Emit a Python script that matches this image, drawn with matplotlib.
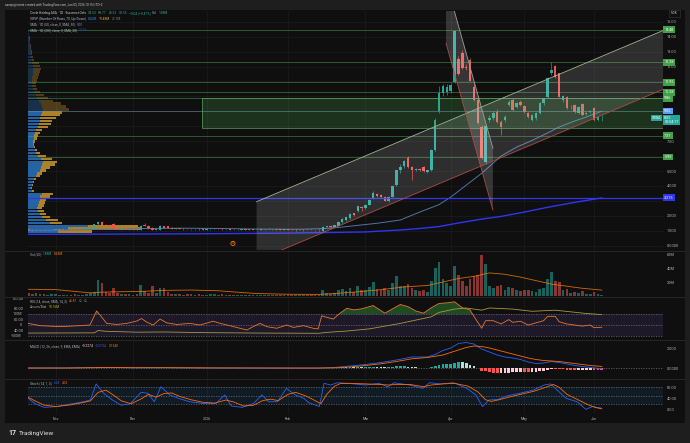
import matplotlib
matplotlib.use("Agg")
import matplotlib.pyplot as plt
from matplotlib.patches import Rectangle, Polygon
from matplotlib.lines import Line2D
import numpy as np
import pandas as pd

plt.rcParams["font.family"] = ["Roboto", "DejaVu Sans"]

W, H = 690, 443

# ---------------- trading calendar (Euronext Oslo) ----------------
holidays = ["2025-12-24", "2025-12-25", "2025-12-26", "2025-12-31", "2026-01-01",
            "2026-04-02", "2026-04-03", "2026-04-06", "2026-05-01", "2026-05-14", "2026-05-25"]
dates = pd.bdate_range("2025-10-23", "2026-06-03")
dates = dates[~dates.isin(pd.to_datetime(holidays))]
pos = np.arange(len(dates))
month_labels = ["Nov", "Dec", "2026", "Feb", "Mar", "Apr", "May", "Jun"]

# ---------------- daily candles ----------------
opens = [1.10, 1.05, 1.08, 1.04, 1.06, 1.03, 1.05, 1.08, 1.10, 1.07,
         1.09, 1.12, 1.10, 1.08, 1.11, 1.15, 1.18, 1.27, 1.44, 1.56,
         1.40, 1.38, 1.45, 1.18, 1.14, 1.17, 1.12, 1.15, 1.10, 1.08,
         1.40, 1.32, 1.18, 1.08, 1.06, 1.30, 1.30, 1.18, 1.13, 1.16,
         1.12, 1.15, 1.11, 1.09, 1.12, 1.10, 1.07, 1.10, 1.13, 1.15,
         1.12, 1.09, 1.11, 1.08, 1.06, 1.08, 1.10, 1.07, 1.09, 1.06,
         1.08, 1.11, 1.13, 1.10, 1.12, 1.09, 1.07, 1.09, 1.06, 1.04,
         1.07, 1.05, 1.08, 1.06, 1.03, 1.05, 1.00, 1.26, 1.32, 1.27,
         1.34, 1.56, 1.70, 1.84, 2.16, 2.30, 2.56, 2.52, 2.75, 3.18,
         3.46, 3.38, 3.24, 2.96, 3.28, 4.08, 5.08, 5.34, 5.85, 5.30,
         5.08, 5.14, 5.28, 4.95, 5.06, 6.42, 9.05, 10.25, 10.30, 10.35,
         10.98, 12.48, 12.88, 12.00, 12.44, 10.65, 9.76, 7.97, 5.60, 8.45,
         8.53, 8.97, 8.30, 8.42, 9.42, 9.76, 9.27, 9.65, 9.36, 8.87,
         8.42, 8.53, 8.87, 9.54, 9.98, 11.60, 12.03, 11.55, 9.76, 9.94,
         9.28, 9.42, 8.87, 9.49, 8.85, 8.98, 9.20, 8.42, 8.53]
highs = [1.14, 1.10, 1.12, 1.08, 1.09, 1.07, 1.10, 1.12, 1.14, 1.11,
         1.15, 1.16, 1.14, 1.12, 1.18, 1.22, 1.30, 1.48, 1.62, 1.62,
         1.45, 1.42, 1.50, 1.22, 1.20, 1.21, 1.18, 1.19, 1.14, 1.38,
         1.50, 1.36, 1.22, 1.14, 1.38, 1.34, 1.35, 1.22, 1.18, 1.20,
         1.17, 1.19, 1.15, 1.14, 1.16, 1.13, 1.12, 1.15, 1.18, 1.20,
         1.16, 1.13, 1.14, 1.12, 1.10, 1.12, 1.14, 1.11, 1.13, 1.10,
         1.12, 1.15, 1.17, 1.14, 1.16, 1.13, 1.11, 1.13, 1.10, 1.09,
         1.11, 1.09, 1.12, 1.10, 1.08, 1.09, 1.30, 1.34, 1.36, 1.40,
         1.62, 1.85, 1.92, 2.18, 2.22, 2.68, 2.64, 2.76, 3.10, 3.66,
         3.56, 3.44, 3.30, 3.32, 4.05, 5.10, 5.50, 5.75, 6.00, 5.35,
         5.20, 5.22, 5.34, 5.10, 6.45, 8.55, 10.70, 10.85, 10.80, 10.90,
         14.48, 12.70, 13.10, 12.20, 12.60, 10.90, 10.00, 8.10, 8.10, 8.75,
         9.00, 9.15, 8.40, 8.75, 9.75, 9.90, 9.65, 9.75, 9.45, 8.95,
         8.80, 8.95, 9.60, 9.92, 11.30, 12.30, 12.10, 11.60, 10.10, 10.00,
         9.40, 9.50, 9.35, 9.55, 8.98, 9.10, 9.30, 8.62, 8.77]
lows = [1.02, 1.00, 1.03, 1.00, 1.02, 0.99, 1.02, 1.04, 1.06, 1.03,
        1.06, 1.08, 1.05, 1.04, 1.08, 1.12, 1.15, 1.25, 1.40, 1.30,
        1.33, 1.30, 1.15, 1.10, 1.08, 1.10, 1.07, 1.08, 1.05, 1.05,
        1.32, 1.15, 1.06, 1.04, 1.02, 1.18, 1.16, 1.10, 1.09, 1.10,
        1.08, 1.10, 1.06, 1.05, 1.08, 1.05, 1.04, 1.07, 1.10, 1.11,
        1.08, 1.05, 1.06, 1.04, 1.02, 1.05, 1.06, 1.03, 1.05, 1.02,
        1.05, 1.07, 1.09, 1.06, 1.08, 1.05, 1.03, 1.05, 1.02, 1.00,
        1.03, 1.01, 1.04, 1.02, 0.99, 1.01, 0.94, 1.22, 1.20, 1.24,
        1.30, 1.52, 1.66, 1.80, 2.02, 2.25, 2.30, 2.48, 2.70, 3.10,
        3.28, 3.20, 2.98, 2.90, 3.24, 4.00, 4.90, 5.20, 5.20, 4.40,
        4.98, 5.00, 4.92, 4.88, 5.02, 6.35, 8.90, 10.05, 10.10, 10.20,
        10.90, 11.45, 11.85, 11.80, 11.00, 9.70, 8.15, 5.80, 5.50, 8.30,
        8.40, 8.25, 7.40, 8.30, 9.35, 9.05, 9.20, 9.35, 8.90, 8.55,
        8.35, 8.45, 8.80, 9.45, 9.90, 11.40, 11.25, 9.95, 9.65, 9.15,
        9.15, 8.90, 8.80, 8.70, 8.78, 8.90, 8.38, 8.35, 8.33]
closes = [1.05, 1.08, 1.04, 1.06, 1.03, 1.05, 1.08, 1.10, 1.07, 1.09,
          1.12, 1.10, 1.08, 1.11, 1.15, 1.18, 1.27, 1.44, 1.56, 1.36,
          1.37, 1.34, 1.18, 1.14, 1.17, 1.12, 1.15, 1.10, 1.08, 1.33,
          1.35, 1.18, 1.08, 1.10, 1.32, 1.20, 1.18, 1.13, 1.16, 1.12,
          1.15, 1.11, 1.09, 1.12, 1.10, 1.07, 1.10, 1.13, 1.15, 1.12,
          1.09, 1.11, 1.08, 1.06, 1.08, 1.10, 1.07, 1.09, 1.06, 1.08,
          1.11, 1.13, 1.10, 1.12, 1.09, 1.07, 1.09, 1.06, 1.04, 1.07,
          1.05, 1.08, 1.06, 1.03, 1.05, 1.02, 1.26, 1.30, 1.23, 1.38,
          1.60, 1.82, 1.90, 2.15, 2.06, 2.65, 2.50, 2.72, 3.05, 3.55,
          3.33, 3.25, 3.02, 3.28, 4.00, 5.05, 5.28, 5.69, 5.30, 5.10,
          5.14, 5.10, 4.98, 5.06, 6.40, 8.45, 10.25, 10.70, 10.65, 10.75,
          14.40, 11.50, 11.88, 11.88, 11.05, 9.76, 8.20, 5.85, 8.02, 8.53,
          8.87, 8.30, 7.97, 8.64, 9.65, 9.09, 9.58, 9.42, 8.97, 8.64,
          8.75, 8.87, 9.54, 9.87, 11.21, 11.75, 11.32, 9.98, 10.03, 9.20,
          9.31, 8.97, 9.31, 8.75, 8.91, 9.04, 8.42, 8.59, 8.55]
volume_m = [4.5, 3.0, 5.0, 2.5, 3.5, 2.0, 2.5, 3.0, 2.0, 1.5,
            2.0, 1.5, 2.5, 2.0, 1.8, 2.5, 4.0, 6.0, 23.0, 18.0,
            6.0, 4.0, 11.0, 5.0, 3.0, 2.5, 3.0, 2.0, 2.5, 16.0,
            7.0, 5.0, 14.0, 4.0, 11.5, 11.0, 6.0, 3.0, 2.5, 3.5,
            2.0, 2.5, 3.0, 2.0, 2.5, 1.5, 2.0, 3.0, 2.5, 2.0,
            2.5, 1.8, 2.0, 1.5, 2.0, 1.5, 1.2, 1.5, 1.0, 1.8,
            1.5, 2.0, 1.2, 1.5, 1.0, 1.3, 1.6, 1.2, 1.5, 1.0,
            1.4, 2.0, 1.5, 1.2, 1.8, 2.0, 9.0, 4.0, 3.5, 5.0,
            8.0, 10.0, 7.0, 12.0, 6.0, 14.0, 8.0, 9.0, 13.0, 20.0,
            10.0, 8.0, 11.0, 9.0, 18.0, 28.0, 15.0, 14.0, 17.0, 12.0,
            8.0, 7.0, 9.0, 6.0, 22.0, 40.0, 48.0, 25.0, 18.0, 14.0,
            43.0, 30.0, 22.0, 14.0, 25.0, 28.0, 30.0, 58.0, 46.0, 15.0,
            12.0, 14.0, 16.0, 9.0, 13.0, 12.0, 8.0, 7.0, 9.0, 8.0,
            7.0, 6.0, 10.0, 12.0, 24.0, 34.0, 22.0, 20.0, 8.0, 10.0,
            5.0, 6.0, 5.0, 7.0, 3.0, 3.5, 6.0, 3.0, 1.88]
macd_hist = [-0.01, -0.02, -0.01, -0.01, 0.00, 0.01, 0.01, 0.01, 0.00, 0.00,
             0.01, 0.01, 0.00, 0.00, 0.01, 0.01, 0.02, 0.04, 0.06, 0.05,
             0.04, 0.03, 0.01, 0.00, -0.01, -0.02, -0.02, -0.02, -0.02, 0.01,
             0.02, 0.01, 0.00, -0.01, 0.01, 0.01, 0.00, -0.01, -0.01, -0.01,
             -0.01, -0.01, -0.01, -0.01, 0.00, 0.00, 0.00, 0.00, 0.01, 0.01,
             0.00, 0.00, 0.00, -0.01, -0.01, -0.01, -0.01, 0.00, 0.00, 0.00,
             0.00, 0.01, 0.01, 0.00, 0.00, 0.00, -0.01, -0.01, -0.01, -0.01,
             0.00, 0.00, 0.00, -0.01, -0.01, -0.01, 0.01, 0.02, 0.03, 0.02,
             0.05, 0.07, 0.06, 0.09, 0.07, 0.10, 0.08, 0.09, 0.11, 0.14,
             0.11, 0.08, 0.06, 0.07, 0.11, 0.16, 0.17, 0.17, 0.14, 0.10,
             0.06, 0.03, 0.02, 0.03, 0.10, 0.22, 0.35, 0.45, 0.45, 0.45,
             0.55, 0.65, 0.58, 0.50, 0.35, 0.20, 0.02, -0.25, -0.32, -0.40,
             -0.45, -0.50, -0.50, -0.50, -0.45, -0.40, -0.37, -0.35, -0.37, -0.40,
             -0.40, -0.40, -0.32, -0.25, -0.15, -0.05, -0.07, -0.10, -0.12, -0.15,
             -0.18, -0.20, -0.20, -0.20, -0.20, -0.20, -0.21, -0.22, -0.2274]

# ---------------- indicator lines (bar position, value) ----------------
sma50_x = [0, 10, 20, 30, 40, 50, 60, 70, 76, 80, 85, 90, 96, 101, 106, 109, 113,
           117, 122, 126, 130, 134, 137, 141, 144, 148]
sma50_y = [1.02, 1.05, 1.10, 1.15, 1.17, 1.15, 1.11, 1.10, 1.14, 1.22, 1.36, 1.50,
           1.72, 2.25, 2.75, 3.25, 4.05, 4.85, 6.00, 6.60, 7.05, 7.55, 7.95, 8.35, 8.62, 9.01]
sma200_x = [0, 27, 47, 67, 87, 96, 101, 106, 111, 117, 122, 128, 134, 141, 148]
sma200_y = [0.76, 0.78, 0.80, 0.84, 0.92, 1.05, 1.15, 1.28, 1.52, 1.78, 1.96, 2.25,
            2.57, 2.90, 3.20]
volma_x = [0, 7, 12, 16, 19, 23, 29, 35, 42, 49, 55, 59, 67, 75, 79, 85, 91, 97, 103,
           107, 111, 115, 119, 123, 127, 131, 135, 139, 143, 148]
volma_y = [9.6, 9.2, 6.5, 4.5, 5.5, 6.0, 6.5, 8.0, 8.5, 7.5, 5.0, 3.5, 2.5, 2.3, 3.5,
           6.0, 9.0, 13.0, 15.0, 20.0, 25.0, 28.0, 33.0, 31.0, 27.0, 22.0, 17.0, 14.0,
           11.0, 8.45]
rsi_x = [0, 3, 8.2, 13.3, 15.9, 17.6, 18.5, 20.2, 22.8, 25.4, 28, 29.2, 30.5, 32.2, 34,
         35.7, 38.3, 41.7, 44.3, 47.7, 49.5, 52, 54.6, 56.4, 58, 59.8, 61.5, 64.1, 66.7,
         68.4, 71, 73.5, 74.8, 75.7, 77.4, 78.7, 80.4, 82.2, 84, 86, 89, 92, 94, 96, 98,
         100, 102, 104, 106, 108, 110, 112, 114, 115, 116, 117, 118, 120, 122, 124, 125,
         127, 129, 131, 133, 134, 136, 137, 139, 141, 143, 145, 146, 148]
rsi_y = [53, 48.8, 47, 48.8, 50, 76, 68.5, 53, 51, 53, 57.4, 62, 55.6, 50, 61, 54, 51,
         53, 50, 57, 53, 48.8, 44, 40.7, 47, 53, 47, 44, 50, 45.5, 48.8, 44, 42.8, 67,
         63.5, 61, 71.6, 81, 78, 80, 86, 72, 80, 88, 84, 76, 72, 82, 90, 91, 93, 82, 78,
         66, 55, 44, 58, 58, 52, 60, 55, 57, 50, 54, 58, 66, 66, 56, 52, 50, 48, 50, 45,
         45.87]
ad_x = [0, 17, 18, 20, 28, 35, 45, 60, 75, 77, 82, 88, 92, 96, 100, 104, 106, 110, 113,
        117, 119, 125, 130, 136, 140, 144, 148]
ad_y = [-78, -76, -55, -62, -70, -68, -74, -78, -80, -72, -60, -40, -15, 10, 40, 70,
        110, 140, 150, 130, 150, 140, 120, 130, 115, 100, 90.16]
macd_x = [0, 10, 17, 21, 27, 35, 47, 67, 75, 79, 83, 87, 91, 95, 99, 103, 105, 107,
          109, 111, 113, 115, 117, 119, 121, 123, 125, 127, 129, 131, 133, 135, 137,
          139, 141, 143, 145, 148]
macd_y = [0.0, 0.01, 0.05, 0.06, 0.02, 0.03, 0.0, -0.01, -0.01, 0.05, 0.2, 0.35, 0.55,
          0.8, 1.1, 1.1, 1.35, 1.75, 2.0, 2.45, 2.55, 2.4, 1.9, 1.6, 1.3, 1.1, 1.0,
          0.85, 0.6, 0.45, 0.5, 0.65, 0.55, 0.4, 0.25, 0.15, 0.05, -0.0734]
signal_x = [0, 10, 17, 21, 27, 35, 47, 67, 75, 79, 83, 87, 91, 95, 99, 103, 107, 111,
            113, 115, 117, 119, 121, 123, 125, 127, 129, 131, 133, 135, 137, 139, 141,
            143, 145, 148]
signal_y = [0.0, 0.0, 0.03, 0.05, 0.03, 0.03, 0.01, 0.0, 0.0, 0.02, 0.1, 0.25, 0.42,
            0.65, 0.92, 1.05, 1.3, 1.8, 2.05, 2.2, 2.15, 2.0, 1.8, 1.6, 1.4, 1.2, 1.0,
            0.85, 0.75, 0.7, 0.65, 0.55, 0.45, 0.35, 0.25, 0.154]
stk_x = [0, 1.8, 4.1, 7.5, 10.9, 14.3, 16, 17.5, 19.4, 21.7, 23.9, 26.2, 29.1, 30.8,
         32.5, 34.2, 36.5, 38.7, 41.6, 45, 48.4, 50.7, 51.8, 52.4, 55.2, 58.1, 60.3, 62,
         64.3, 66.6, 68.9, 71.1, 72.3, 75.1, 76.3, 78, 79.7, 82.5, 87, 90.5, 92.7, 94.4,
         98.4, 101.8, 103.5, 106.4, 109.8, 113.2, 115.5, 117.2, 118.9, 121.2, 123.4,
         126.9, 130.3, 133.1, 134.8, 136.5, 138.8, 141.6, 143.9, 145.6, 147.9]
stk_y = [41, 21, 9, 12, 21, 29, 35, 92, 59, 35, 17, 21, 62, 59, 29, 82, 53, 41, 29, 23,
         23, 53, 26, 14, 9, 23, 53, 29, 29, 76, 53, 41, 26, 12, 94, 88, 96, 94, 88, 94,
         82, 96, 88, 76, 96, 92, 96, 76, 53, 12, 35, 37, 49, 59, 70, 88, 92, 70, 41, 29,
         2, 12, 6.28]
std_x = [0, 2, 4, 7, 11, 14, 16, 18, 20, 22, 24, 26.5, 29, 31, 33, 35, 37, 39, 42, 45,
         48, 51, 53, 55.5, 58, 60.5, 62.5, 64.5, 67, 69, 71.5, 73, 75.5, 77, 79, 80.5,
         83, 87, 90.5, 93, 95, 98.5, 102, 104, 107, 110, 113.5, 116, 118, 119.5, 121.5,
         124, 127, 130.5, 133.5, 135.5, 137, 139, 142, 144.5, 146.5, 148]
std_y = [44, 30, 17, 12, 18, 26, 32, 62, 70, 52, 32, 22, 38, 55, 45, 58, 60, 48, 36, 27,
         24, 35, 28, 14, 16, 33, 38, 33, 55, 62, 50, 40, 22, 55, 84, 93, 94, 92, 90, 88,
         90, 90, 82, 88, 92, 94, 84, 64, 36, 30, 36, 45, 55, 66, 80, 90, 80, 55, 35, 18,
         8, 4.02]

# ---------------- visible range volume profile (70 rows) ----------------
vp_low, vp_high = 0.85, 14.48
vp_up = [30, 40, 60, 22, 18, 14, 12, 10, 9, 10, 11, 12, 12, 14, 4, 3, 4, 5, 6, 8,
         9, 12, 13, 14, 15, 13, 10, 8, 7, 6, 5, 5, 6, 6, 7, 8, 10, 11, 12, 12,
         13, 14, 15, 14, 13, 11, 9, 8, 6, 5, 4, 4, 4, 4, 5, 5, 5, 5, 4, 4,
         3, 3, 3, 2, 2, 2, 1, 1, 1, 1]
vp_down = [34, 72, 50, 12, 12, 8, 6, 6, 5, 6, 6, 6, 10, 11, 2, 1, 1, 1, 2, 4,
           5, 6, 9, 13, 14, 11, 8, 4, 2, 1, 1, 2, 3, 4, 5, 6, 10, 12, 12, 16,
           19, 20, 26, 24, 20, 14, 11, 8, 6, 4, 4, 4, 5, 6, 6, 7, 8, 7, 7, 2,
           2, 1, 1, 1, 1, 0, 1, 1, 0, 0]
value_area_top_row = 41

# ---------------- drawings ----------------
level_prices = [14.48, 12.28, 10.95, 10.28, 9.86, 7.37, 5.95]
zone_x0, zone_bottom, zone_top = 44.8, 7.88, 9.86
up_channel_x = [58.9, 163.8]
up_channel_top = [2.947, 14.41]
up_channel_bottom = [-1.0, 10.47]
down_channel_x = [107.8, 119.9]
down_channel_left = [13.56, 2.39]
down_channel_right = [17.69, 6.52]

# ---------------- colours ----------------
BG = "#0f0f0f"
OUTER = "#1e1e1e"
GRID = "#1c1c1c"
TXT = "#b2b5be"
UP = "#26a69a"
DN = "#ef5350"
XLIM = (-0.1, 163.8)
PX_PER_BAR = 635 / (XLIM[1] - XLIM[0])

fig = plt.figure(figsize=(W / 100, H / 100), dpi=100)
fig.patch.set_facecolor(OUTER)
fig.add_artist(Rectangle((5 / W, 1 - 423 / H), 680 / W, 413 / H, transform=fig.transFigure,
                         fc=BG, ec="none", zorder=-10))

month_first = pd.Series(pos, index=dates).groupby(dates.to_period("M")).first().values[1:]


def add_panel(top, bottom):
    ax = fig.add_axes([28 / W, 1 - bottom / H, 635 / W, (bottom - top) / H])
    ax.set_facecolor("none")
    for s in ax.spines.values():
        s.set_visible(False)
    ax.set_xlim(XLIM)
    ax.set_xticks([])
    ax.yaxis.tick_right()
    ax.tick_params(axis="y", length=0, labelsize=2.8, labelcolor=TXT, pad=3)
    for p in month_first:
        ax.axvline(p, color=GRID, lw=0.5, zorder=0)
    return ax


def seg_text(x_px, y_px, parts, size=2.3):
    renderer = fig.canvas.get_renderer()
    x = x_px
    for s, c in parts:
        t = fig.text(x / W, 1 - y_px / H, s, color=c, fontsize=size, va="center", ha="left")
        x += t.get_window_extent(renderer).width + 1.6


def tag(ax, y, text, bg, fg="white"):
    ax.text(1.002, y, text, transform=ax.get_yaxis_transform(), ha="left", va="center",
            fontsize=2.7, color=fg, clip_on=False, linespacing=1.0, zorder=10,
            bbox=dict(boxstyle="square,pad=0.35", fc=bg, ec="none"))


# ================= main price panel =================
ax = add_panel(11, 250)
ax.set_ylim(-0.29, 15.72)
for v in range(16):
    ax.axhline(v, color=GRID, lw=0.5, zorder=0)
ax.set_yticks([0, 1, 2, 4, 5, 7, 12, 13, 14, 15])
ax.set_yticklabels(["0.0000", "1.000", "2.000", "4.000", "5.000", "7.00", "12.00",
                    "13.00", "14.00", "15.00"])

# volume profile
edges = np.linspace(vp_low, vp_high, len(vp_up) + 1)
centers = (edges[:-1] + edges[1:]) / 2
row_h = edges[1] - edges[0]
up_w = np.array(vp_up) / PX_PER_BAR
dn_w = np.array(vp_down) / PX_PER_BAR
alphas = [0.75 if k <= value_area_top_row else 0.3 for k in range(len(vp_up))]
for k in range(len(vp_up)):
    ax.barh(centers[k], up_w[k], height=row_h * 0.82, left=XLIM[0], color="#2f80d8",
            alpha=alphas[k], lw=0, zorder=1)
    ax.barh(centers[k], dn_w[k], height=row_h * 0.82, left=XLIM[0] + up_w[k],
            color="#e0aa30", alpha=alphas[k], lw=0, zorder=1)

# moving averages
ax.plot(sma200_x, sma200_y, color="#2f35f0", lw=1.0, zorder=2)
ax.plot(sma50_x, sma50_y, color="#4f74a8", lw=0.7, zorder=2)

# candles
o, h, l, c = map(np.array, (opens, highs, lows, closes))
cols = np.where(c >= o, UP, DN)
ax.vlines(pos, l, h, colors=cols, lw=0.45, zorder=3)
ax.bar(pos, np.maximum(np.abs(c - o), 0.02), bottom=np.minimum(o, c), width=0.62,
       color=cols, lw=0, zorder=3)

# horizontal levels
for lv in level_prices:
    ax.axhline(lv, color="#4caf50", lw=0.6, alpha=0.55, zorder=4)
ax.axhline(9.02, color="#6b84b0", lw=0.5, alpha=0.8, zorder=4)
ax.axhline(3.215, color="#2f35f0", lw=0.9, zorder=4)

# zone rectangle
ax.add_patch(Rectangle((zone_x0, zone_bottom), XLIM[1] - zone_x0, zone_top - zone_bottom,
                       fc="#4caf50", alpha=0.22, ec="none", zorder=5))
ax.add_patch(Rectangle((zone_x0, zone_bottom), XLIM[1] - zone_x0, zone_top - zone_bottom,
                       fc="none", ec="#5d9e5f", lw=0.5, zorder=5))

# rising channel
ax.add_patch(Polygon([(up_channel_x[0], up_channel_top[0]), (up_channel_x[1], up_channel_top[1]),
                      (up_channel_x[1], up_channel_bottom[1]), (up_channel_x[0], up_channel_bottom[0])],
                     closed=True, fc="#ffffff", alpha=0.13, ec="none", zorder=5))
ax.plot(up_channel_x, up_channel_top, color="#9db38f", lw=0.6, zorder=6)
ax.plot(up_channel_x, up_channel_bottom, color="#b04a46", lw=0.6, zorder=6)

# falling channel
ax.add_patch(Polygon([(down_channel_x[0], down_channel_right[0]), (down_channel_x[1], down_channel_right[1]),
                      (down_channel_x[1], down_channel_left[1]), (down_channel_x[0], down_channel_left[0])],
                     closed=True, fc="#ffffff", alpha=0.16, ec="none", zorder=5))
ax.plot(down_channel_x, down_channel_right, color="#a0a0a0", lw=0.6, zorder=6)
ax.plot(down_channel_x, down_channel_left, color="#b04a46", lw=0.6, zorder=6)

# split / event marker
ax.scatter([52.8], [0.15], s=9, facecolors="none", edgecolors="#f57c00", lw=0.6, zorder=7)
ax.text(52.8, 0.15, "S", color="#f57c00", fontsize=2.2, ha="center", va="center", zorder=7)

# price tags
for lv in level_prices:
    tag(ax, lv, f"{lv:.2f}", "#43a047")
tag(ax, 9.02, "9.02", "#5b9cf6")
tag(ax, 8.42, "8.55\n00:04:17", UP)
tag(ax, 3.215, "3.215", "#2f35f0")
ax.text(0.997, 8.55, "CRWA", transform=ax.get_yaxis_transform(), ha="right", va="center",
        fontsize=2.4, color="white", zorder=10,
        bbox=dict(boxstyle="square,pad=0.3", fc=UP, ec="none"))
fig.text(674.5 / W, 1 - 13.5 / H, "NOK", fontsize=2.4, color=TXT, ha="center", va="center",
         bbox=dict(boxstyle="square,pad=0.5", fc=BG, ec="#3a3a3a", lw=0.4))

# ================= volume =================
axv = add_panel(251, 296)
axv.set_ylim(0, 64.3)
axv.set_yticks([20, 40, 60])
axv.set_yticklabels(["20M", "40M", "60M"])
axv.bar(pos, volume_m, width=0.7, color=cols, alpha=0.55, lw=0, zorder=2)
axv.plot(volma_x, volma_y, color="#f57c00", lw=0.6, alpha=0.85, zorder=3)

# ================= RSI + Accum/Dist =================
axr = add_panel(297, 339)
axr.set_ylim(24.1, 101.9)
axr.set_yticks([40, 60, 80, 100])
axr.set_yticklabels(["40.00", "60.00", "80.00", "100.00"])
axr.axhspan(30, 70, color="#7e57c2", alpha=0.14, lw=0, zorder=1)
for lv in (70, 50, 30):
    axr.axhline(lv, color="#787b86", lw=0.45, ls=(0, (2, 2)), zorder=2)
rx, ry = np.array(rsi_x), np.array(rsi_y)
axr.fill_between(rx, ry, 70, where=ry > 70, interpolate=True, color="#2e7d32", alpha=0.55,
                 lw=0, zorder=2)
axr.plot(rx, ry, color="#e8762d", lw=0.6, zorder=4)
axa = axr.twinx()
axa.set_xlim(XLIM)
for s in axa.spines.values():
    s.set_visible(False)
axa.set_ylim(-132, 250)
axa.yaxis.tick_left()
axa.set_yticks([100, 0, -100])
axa.set_yticklabels(["100M", "0", "-100M"])
axa.tick_params(axis="y", length=0, labelsize=2.6, labelcolor=TXT, pad=4.5)
axa.plot(ad_x, ad_y, color="#a89a3c", lw=0.6, zorder=3)

# ================= MACD =================
axm = add_panel(340, 378)
axm.set_ylim(-1.0, 2.8)
axm.set_yticks([0, 2])
axm.set_yticklabels(["0.0000", "2.000"])
axm.axhline(0, color="#787b86", lw=0.45, ls=(0, (2, 2)), zorder=1)
hist = np.array(macd_hist)
prev = np.concatenate([[hist[0]], hist[:-1]])
hcol = np.where(hist >= 0, np.where(hist >= prev, "#26a69a", "#b2dfdb"),
                np.where(hist >= prev, "#ffcdd2", "#ff5252"))
axm.bar(pos, hist, width=0.7, color=hcol, lw=0, zorder=2)
axm.plot(macd_x, macd_y, color="#2962ff", lw=0.6, zorder=3)
axm.plot(signal_x, signal_y, color="#ff6d00", lw=0.6, zorder=3)

# ================= Stochastic =================
axs = add_panel(379, 414)
axs.set_ylim(-14.4, 109.3)
axs.set_yticks([0, 40, 80])
axs.set_yticklabels(["0.00", "40.00", "80.00"])
axs.axhspan(20, 80, color="#2196f3", alpha=0.09, lw=0, zorder=1)
for lv in (80, 50, 20):
    axs.axhline(lv, color="#787b86", lw=0.45, ls=(0, (2, 2)), zorder=2)
axs.plot(stk_x, stk_y, color="#2962ff", lw=0.6, zorder=3)
axs.plot(std_x, std_y, color="#ff6d00", lw=0.6, zorder=3)
axs.set_xticks(month_first)
axs.set_xticklabels(month_labels)
axs.tick_params(axis="x", length=0, labelsize=2.6, labelcolor=TXT, pad=2)

# pane separators
for yy in (250.5, 296.5, 339.5, 378.5):
    fig.add_artist(Line2D([5 / W, 685 / W], [1 - yy / H, 1 - yy / H], color="#2a2a2a", lw=0.6))

# ================= texts =================
fig.text(5 / W, 1 - 5 / H, "savepigiinvest created with TradingView.com, Jun 03, 2026 10:15 UTC+2",
         fontsize=2.2, color="#c8c8c8", va="center")
seg_text(30, 13, [("Circle Holding ASA · 1D · Euronext Oslo", "#d1d4dc"), ("O8.53", UP),
                  ("H8.77", UP), ("L8.33", UP), ("C8.55", UP), ("−0.04 (−0.47%)", UP),
                  ("Vol", TXT), ("1.88M", UP)])
seg_text(30, 19, [("VRVP (Number Of Rows, 70, Up/Down)", TXT), ("8.42M", "#2f80d8"),
                  ("19.48M", "#e0aa30"), ("27.9M", "#787b86")])
seg_text(30, 24.5, [("SMA · 1D (50, close, 0, SMA, 50)", TXT), ("9.01", "#5b9cf6")])
seg_text(30, 30, [("SMA · 1D (200, close, 0, SMA, 20)", TXT), ("3.199", "#2f35f0")])
seg_text(30, 254, [("Vol (20)", TXT), ("1.88M", UP), ("8.45M", "#f57c00")])
seg_text(30, 301, [("RSI (14, close, SMA, 14, 2)", TXT), ("45.87", "#e8762d"), ("∅", TXT), ("∅", TXT)])
seg_text(30, 307, [("Accum/Dist", TXT), ("90.16M", "#c8b400")])
seg_text(30, 346, [("MACD (12, 26, close, 9, EMA, EMA)", TXT), ("−0.2274", "#ffcdd2"),
                   ("−0.0734", "#2962ff"), ("0.1540", "#ff6d00")])
seg_text(30, 383, [("Stoch (14, 1, 3)", TXT), ("6.28", "#2962ff"), ("4.02", "#ff6d00")])

fig.text(8 / W, 1 - 433 / H, "17", fontsize=5, fontweight="bold", color="#e0e0e0", va="center")
fig.text(19 / W, 1 - 433 / H, "TradingView", fontsize=4.6, color="#e0e0e0", va="center")

fig.savefig("out.png", dpi=100, facecolor=fig.get_facecolor())
